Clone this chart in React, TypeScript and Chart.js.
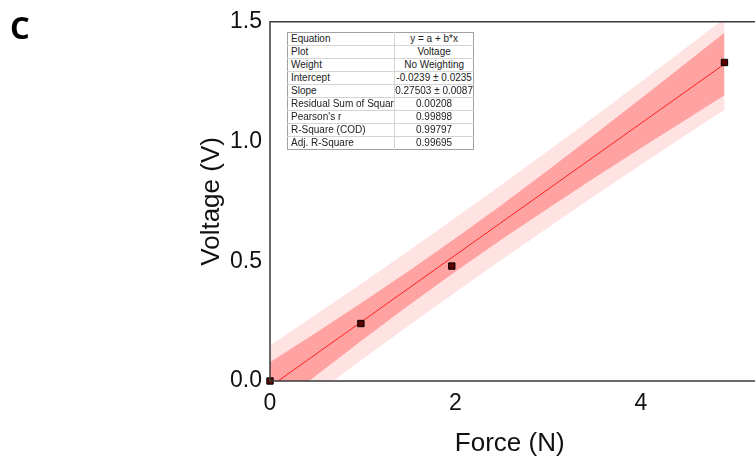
import React, { useEffect, useRef } from "react";
import { Chart, registerables } from "chart.js";

Chart.register(...registerables);

// Measured data
const forceN = [0, 0.98, 1.96, 4.9];
const voltageV = [0, 0.24, 0.48, 1.33];

// Linear fit line end points
const fitX = [0, 4.9];
const fitY = [-0.0239, 1.3237];

// Confidence / prediction bands
const bandX = [0, 0.5, 1, 1.5, 2, 2.5, 3, 3.5, 4, 4.5, 4.9];
const ciLower = [-0.126, 0.0245, 0.1725, 0.3169, 0.4568, 0.5915, 0.7217, 0.8484, 0.9727, 1.0955, 1.193];
const ciUpper = [0.078, 0.2027, 0.3297, 0.4603, 0.5956, 0.7359, 0.8807, 1.029, 1.1797, 1.3319, 1.4545];
const piLower = [-0.196, -0.0514, 0.0916, 0.2324, 0.371, 0.5072, 0.6412, 0.7731, 0.9031, 1.0314, 1.133];
const piUpper = [0.148, 0.2786, 0.4106, 0.5448, 0.6814, 0.8202, 0.9612, 1.1043, 1.2493, 1.396, 1.514];

const xTicks = [0, 2, 4];
const yTicks = [0, 0.5, 1.0, 1.5];

// Fit report table
const tableLabels = [
  "Equation",
  "Plot",
  "Weight",
  "Intercept",
  "Slope",
  "Residual Sum of Squar",
  "Pearson's r",
  "R-Square (COD)",
  "Adj. R-Square",
];
const tableValues = [
  "y = a + b*x",
  "Voltage",
  "No Weighting",
  "-0.0239 \u00b1 0.0235",
  "0.27503 \u00b1 0.0087",
  "0.00208",
  "0.99898",
  "0.99797",
  "0.99695",
];

const zip = (xs: number[], ys: number[]) => xs.map((x, i) => ({ x, y: ys[i] }));

const framePlugin = {
  id: "frame",
  afterDraw(chart: any) {
    const { ctx, chartArea } = chart;
    ctx.save();
    ctx.strokeStyle = "#3a3a3a";
    ctx.lineWidth = 1.5;
    ctx.beginPath();
    ctx.moveTo(chart.width, chartArea.top);
    ctx.lineTo(chartArea.left, chartArea.top);
    ctx.lineTo(chartArea.left, chartArea.bottom);
    ctx.lineTo(chart.width, chartArea.bottom);
    ctx.stroke();
    ctx.restore();
  },
};

export default function App() {
  const canvasRef = useRef<HTMLCanvasElement | null>(null);

  useEffect(() => {
    const canvas = canvasRef.current;
    if (!canvas) return;
    const font = "'Liberation Sans', Arial, sans-serif";
    const chart = new Chart(canvas, {
      type: "line",
      data: {
        datasets: [
          {
            type: "scatter",
            data: zip(forceN, voltageV),
            pointStyle: "rect",
            pointRadius: 4.5,
            backgroundColor: "#5a0000",
            borderColor: "#000000",
            borderWidth: 1,
            showLine: false,
            clip: false,
            order: 0,
          } as any,
          {
            data: zip(fitX, fitY),
            borderColor: "#ff2020",
            borderWidth: 1,
            pointRadius: 0,
            fill: false,
            order: 1,
          },
          {
            data: zip(bandX, ciLower),
            borderWidth: 0,
            borderColor: "rgba(0,0,0,0)",
            pointRadius: 0,
            fill: false,
            order: 2,
          },
          {
            data: zip(bandX, ciUpper),
            borderWidth: 0,
            borderColor: "rgba(0,0,0,0)",
            backgroundColor: "#ffa2a2",
            pointRadius: 0,
            fill: 2,
            order: 2,
          },
          {
            data: zip(bandX, piLower),
            borderWidth: 0,
            borderColor: "rgba(0,0,0,0)",
            pointRadius: 0,
            fill: false,
            order: 3,
          },
          {
            data: zip(bandX, piUpper),
            borderWidth: 0,
            borderColor: "rgba(0,0,0,0)",
            backgroundColor: "#ffe2e2",
            pointRadius: 0,
            fill: 4,
            order: 3,
          },
        ],
      },
      options: {
        animation: false,
        responsive: false,
        maintainAspectRatio: false,
        layout: { padding: { top: 20, left: 196, right: 0, bottom: 0 } },
        plugins: {
          legend: { display: false },
          tooltip: { enabled: false },
        },
        scales: {
          x: {
            type: "linear",
            min: 0,
            max: 5.17,
            grid: { display: false, drawTicks: false },
            border: { display: false },
            afterBuildTicks: (scale: any) => {
              scale.ticks = xTicks.map((v) => ({ value: v }));
            },
            ticks: {
              color: "#111",
              font: { family: font, size: 23 },
              padding: 9,
              callback: (v: any) => String(v),
            },
            title: {
              display: true,
              text: "Force (N)",
              color: "#111",
              font: { family: font, size: 26 },
              padding: { top: 0, bottom: 0 },
            },
            afterFit: (scale: any) => {
              scale.height = 78;
            },
          },
          y: {
            type: "linear",
            min: 0,
            max: 1.5,
            grid: { display: false, drawTicks: false },
            border: { display: false },
            afterBuildTicks: (scale: any) => {
              scale.ticks = yTicks.map((v) => ({ value: v }));
            },
            ticks: {
              color: "#111",
              font: { family: font, size: 23 },
              padding: 8,
              callback: (v: any) => Number(v).toFixed(1),
            },
            title: {
              display: true,
              text: "Voltage (V)",
              color: "#111",
              font: { family: font, size: 26 },
              padding: { top: 0, bottom: 0 },
            },
            afterFit: (scale: any) => {
              scale.width = 74;
            },
          },
        },
      } as any,
      plugins: [framePlugin],
    });
    return () => chart.destroy();
  }, []);

  const rowH = 13;
  return (
    <div style={{ position: "absolute", left: 0, top: 0, width: 755, height: 459, background: "#fff", overflow: "hidden" }}>
      <canvas ref={canvasRef} width={755} height={459} style={{ position: "absolute", left: 0, top: 0 }} />
      <div
        style={{
          position: "absolute",
          left: 10,
          top: 9,
          fontFamily: "'Open Sans', 'Liberation Sans', sans-serif",
          fontWeight: 700,
          fontSize: 31,
          color: "#000",
          lineHeight: "36px",
        }}
      >
        C
      </div>
      <table
        style={{
          position: "absolute",
          left: 287,
          top: 32,
          width: 187,
          borderCollapse: "collapse",
          fontFamily: "'Liberation Sans', Arial, sans-serif",
          fontSize: 10,
          color: "#222",
          background: "#fff",
          border: "1px solid #a0a0a0",
        }}
      >
        <tbody>
          {tableLabels.map((lab, i) => (
            <tr key={lab} style={{ height: rowH }}>
              <td
                style={{
                  width: 106,
                  padding: "0 0 0 3px",
                  height: rowH - 1,
                  lineHeight: `${rowH - 1}px`,
                  borderTop: i === 0 ? "none" : "1px solid #d4d4d4",
                  borderRight: "1px solid #d4d4d4",
                  whiteSpace: "nowrap",
                  overflow: "hidden",
                }}
              >
                {lab}
              </td>
              <td
                style={{
                  padding: 0,
                  height: rowH - 1,
                  lineHeight: `${rowH - 1}px`,
                  textAlign: "center",
                  borderTop: i === 0 ? "none" : "1px solid #d4d4d4",
                  whiteSpace: "nowrap",
                }}
              >
                {tableValues[i]}
              </td>
            </tr>
          ))}
        </tbody>
      </table>
    </div>
  );
}
